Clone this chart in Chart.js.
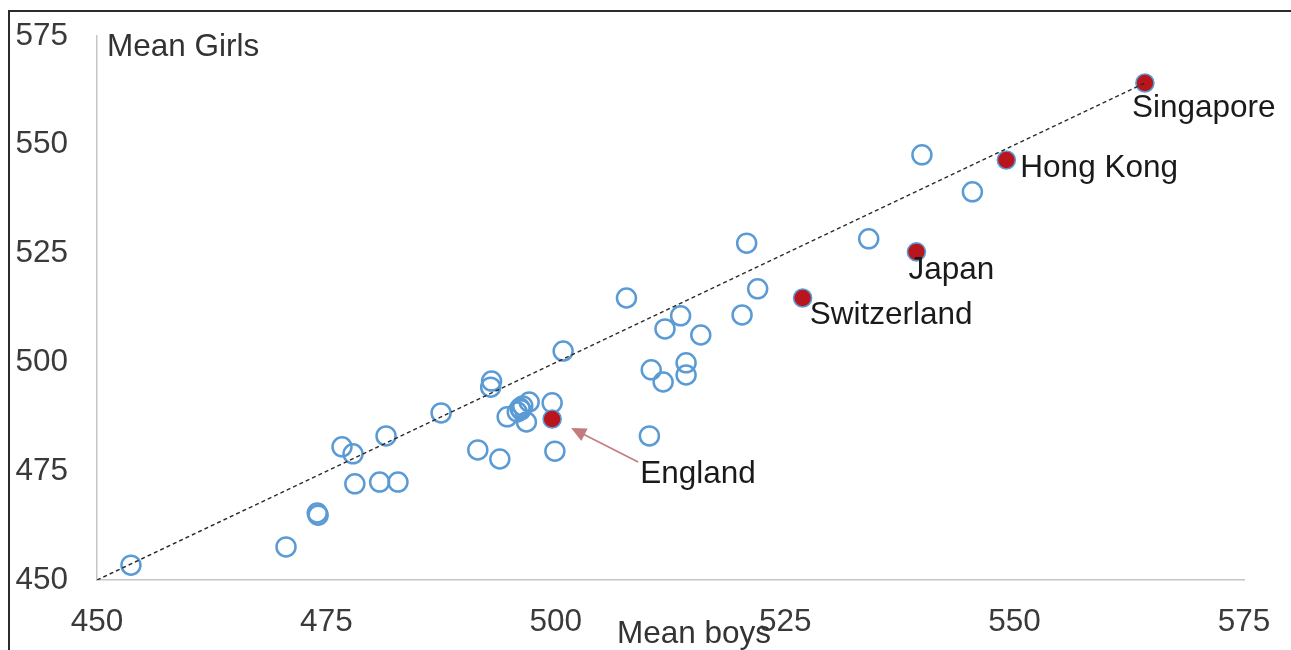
<!DOCTYPE html>
<html lang="en">
<head>
  <meta charset="UTF-8">
  <title>Mean Girls vs Mean boys</title>
  <script src="https://cdn.jsdelivr.net/npm/chart.js@4.4.1/dist/chart.umd.min.js"></script>
  <style>
    html, body {
      margin: 0;
      padding: 0;
      background: #ffffff;
      overflow: hidden;
    }
    #wrap {
      position: relative;
      width: 1291px;
      height: 650px;
    }
    #frame {
      position: absolute;
      left: 8px;
      top: 10px;
      width: 1400px;
      height: 700px;
      border-left: 2px solid #2b2b2b;
      border-top: 2px solid #2b2b2b;
    }
    #chart {
      position: absolute;
      left: 0;
      top: 0;
    }
  </style>
</head>
<body>
  <div id="wrap">
    <div id="frame"></div>
    <canvas id="chart" width="1291" height="650"></canvas>
  </div>

  <script>
    // Axis ticks
    const tickValues = [450, 475, 500, 525, 550, 575];

    // All other countries: mean score boys (x) / girls (y)
    const boysScores = [
      453.7, 470.6, 474.0, 474.1, 476.7, 477.9, 478.1, 480.8, 482.8, 481.5,
      487.5, 491.5, 493.0, 492.9, 493.9, 494.7, 495.8, 496.1, 496.4, 497.1,
      496.2, 496.8, 499.6, 499.9, 500.8, 507.7, 510.2, 510.4, 511.7, 511.9,
      513.6, 514.2, 514.2, 515.8, 520.3, 520.8, 522.0, 534.1, 539.9, 545.4
    ];
    const girlsScores = [
      453.4, 457.6, 465.4, 464.9, 480.6, 479.0, 472.1, 472.5, 472.5, 483.1,
      488.4, 479.9, 495.7, 494.3, 477.8, 487.5, 488.6, 489.5, 490.0, 490.9,
      489.1, 486.3, 490.7, 479.6, 502.6, 514.8, 483.1, 498.3, 495.5, 507.7,
      510.7, 499.9, 497.1, 506.3, 510.9, 527.4, 516.9, 528.4, 547.7, 539.2
    ];

    // Highlighted countries
    const namedCountries = ['England', 'Switzerland', 'Japan', 'Hong Kong', 'Singapore'];
    const namedBoys = [499.6, 526.9, 539.3, 549.1, 564.2];
    const namedGirls = [487.0, 514.8, 525.4, 546.5, 564.2];

    // Equal-score reference line
    const diagonalEnds = [450, 564.2];

    const fontFamily = '"Liberation Sans", Arial, sans-serif';
    const fontSize = 31.5;
    const bigFont = { family: fontFamily, size: fontSize };

    // where each country label sits relative to its point (px)
    const labelOffsets = {
      'England': [88, 55],
      'Switzerland': [7, 17],
      'Japan': [-8, 18],
      'Hong Kong': [14, 8],
      'Singapore': [-13, 25]
    };

    const labelsPlugin = {
      id: 'labels',
      afterDatasetsDraw(chart) {
        const ctx = chart.ctx;
        const xs = chart.scales.x;
        const ys = chart.scales.y;
        const area = chart.chartArea;
        ctx.save();
        ctx.font = fontSize + 'px ' + fontFamily;
        ctx.textBaseline = 'middle';
        ctx.textAlign = 'left';

        // axis titles
        ctx.fillStyle = '#333333';
        ctx.fillText('Mean Girls', area.left + 10, area.top + 11);
        ctx.fillText('Mean boys', area.left + 520, area.bottom + 54);

        // country labels
        ctx.fillStyle = '#1a1a1a';
        namedCountries.forEach((name, i) => {
          const px = xs.getPixelForValue(namedBoys[i]);
          const py = ys.getPixelForValue(namedGirls[i]);
          const off = labelOffsets[name];
          ctx.fillText(name, px + off[0], py + off[1]);
        });

        // arrow to England
        const ex = xs.getPixelForValue(namedBoys[0]);
        const ey = ys.getPixelForValue(namedGirls[0]);
        const tipX = ex + 19, tipY = ey + 9;
        const endX = ex + 86, endY = ey + 43;
        const ang = Math.atan2(tipY - endY, tipX - endX);
        ctx.strokeStyle = '#c47b7e';
        ctx.fillStyle = '#c47b7e';
        ctx.lineWidth = 1.5;
        ctx.beginPath();
        ctx.moveTo(endX, endY);
        ctx.lineTo(tipX - 10 * Math.cos(ang), tipY - 10 * Math.sin(ang));
        ctx.stroke();
        ctx.beginPath();
        ctx.moveTo(tipX, tipY);
        ctx.lineTo(tipX - 15 * Math.cos(ang) + 7 * Math.sin(ang), tipY - 15 * Math.sin(ang) - 7 * Math.cos(ang));
        ctx.lineTo(tipX - 15 * Math.cos(ang) - 7 * Math.sin(ang), tipY - 15 * Math.sin(ang) + 7 * Math.cos(ang));
        ctx.closePath();
        ctx.fill();
        ctx.restore();
      }
    };

    const axisCommon = {
      type: 'linear',
      min: 450,
      max: 575,
      grid: { display: false, drawTicks: false },
      border: { display: true, color: '#c6c6c6', width: 1.5 },
      afterBuildTicks(scale) {
        scale.ticks = tickValues.map(v => ({ value: v }));
      }
    };

    new Chart(document.getElementById('chart'), {
      type: 'scatter',
      data: {
        datasets: [
          {
            type: 'line',
            label: 'Equal',
            data: diagonalEnds.map(v => ({ x: v, y: v })),
            borderColor: '#2a2a2a',
            borderWidth: 1.4,
            borderDash: [4, 3],
            pointRadius: 0,
            fill: false,
            order: 0
          },
          {
            label: 'Highlighted',
            data: namedBoys.map((b, i) => ({ x: b, y: namedGirls[i] })),
            backgroundColor: '#b8161c',
            borderColor: '#5b9bd5',
            borderWidth: 1.6,
            pointRadius: 9,
            order: 1
          },
          {
            label: 'Countries',
            data: boysScores.map((b, i) => ({ x: b, y: girlsScores[i] })),
            backgroundColor: 'rgba(0,0,0,0)',
            borderColor: '#5b9bd5',
            borderWidth: 2.5,
            pointRadius: 9.5,
            order: 2
          }
        ]
      },
      options: {
        responsive: false,
        animation: false,
        events: [],
        layout: { padding: { left: 0, right: 47, top: 36, bottom: 0 } },
        plugins: {
          legend: { display: false },
          tooltip: { enabled: false }
        },
        scales: {
          x: {
            ...axisCommon,
            position: 'bottom',
            ticks: { padding: 23, color: '#3a3a3a', font: bigFont },
            afterFit(scale) {
              scale.height = 70;
              scale.paddingLeft = 0;
              scale.paddingRight = 0;
            }
          },
          y: {
            ...axisCommon,
            position: 'left',
            ticks: { padding: 29, color: '#3a3a3a', font: bigFont },
            afterFit(scale) {
              scale.width = 97;
              scale.paddingTop = 0;
              scale.paddingBottom = 0;
            }
          }
        }
      },
      plugins: [labelsPlugin]
    });
  </script>
</body>
</html>
